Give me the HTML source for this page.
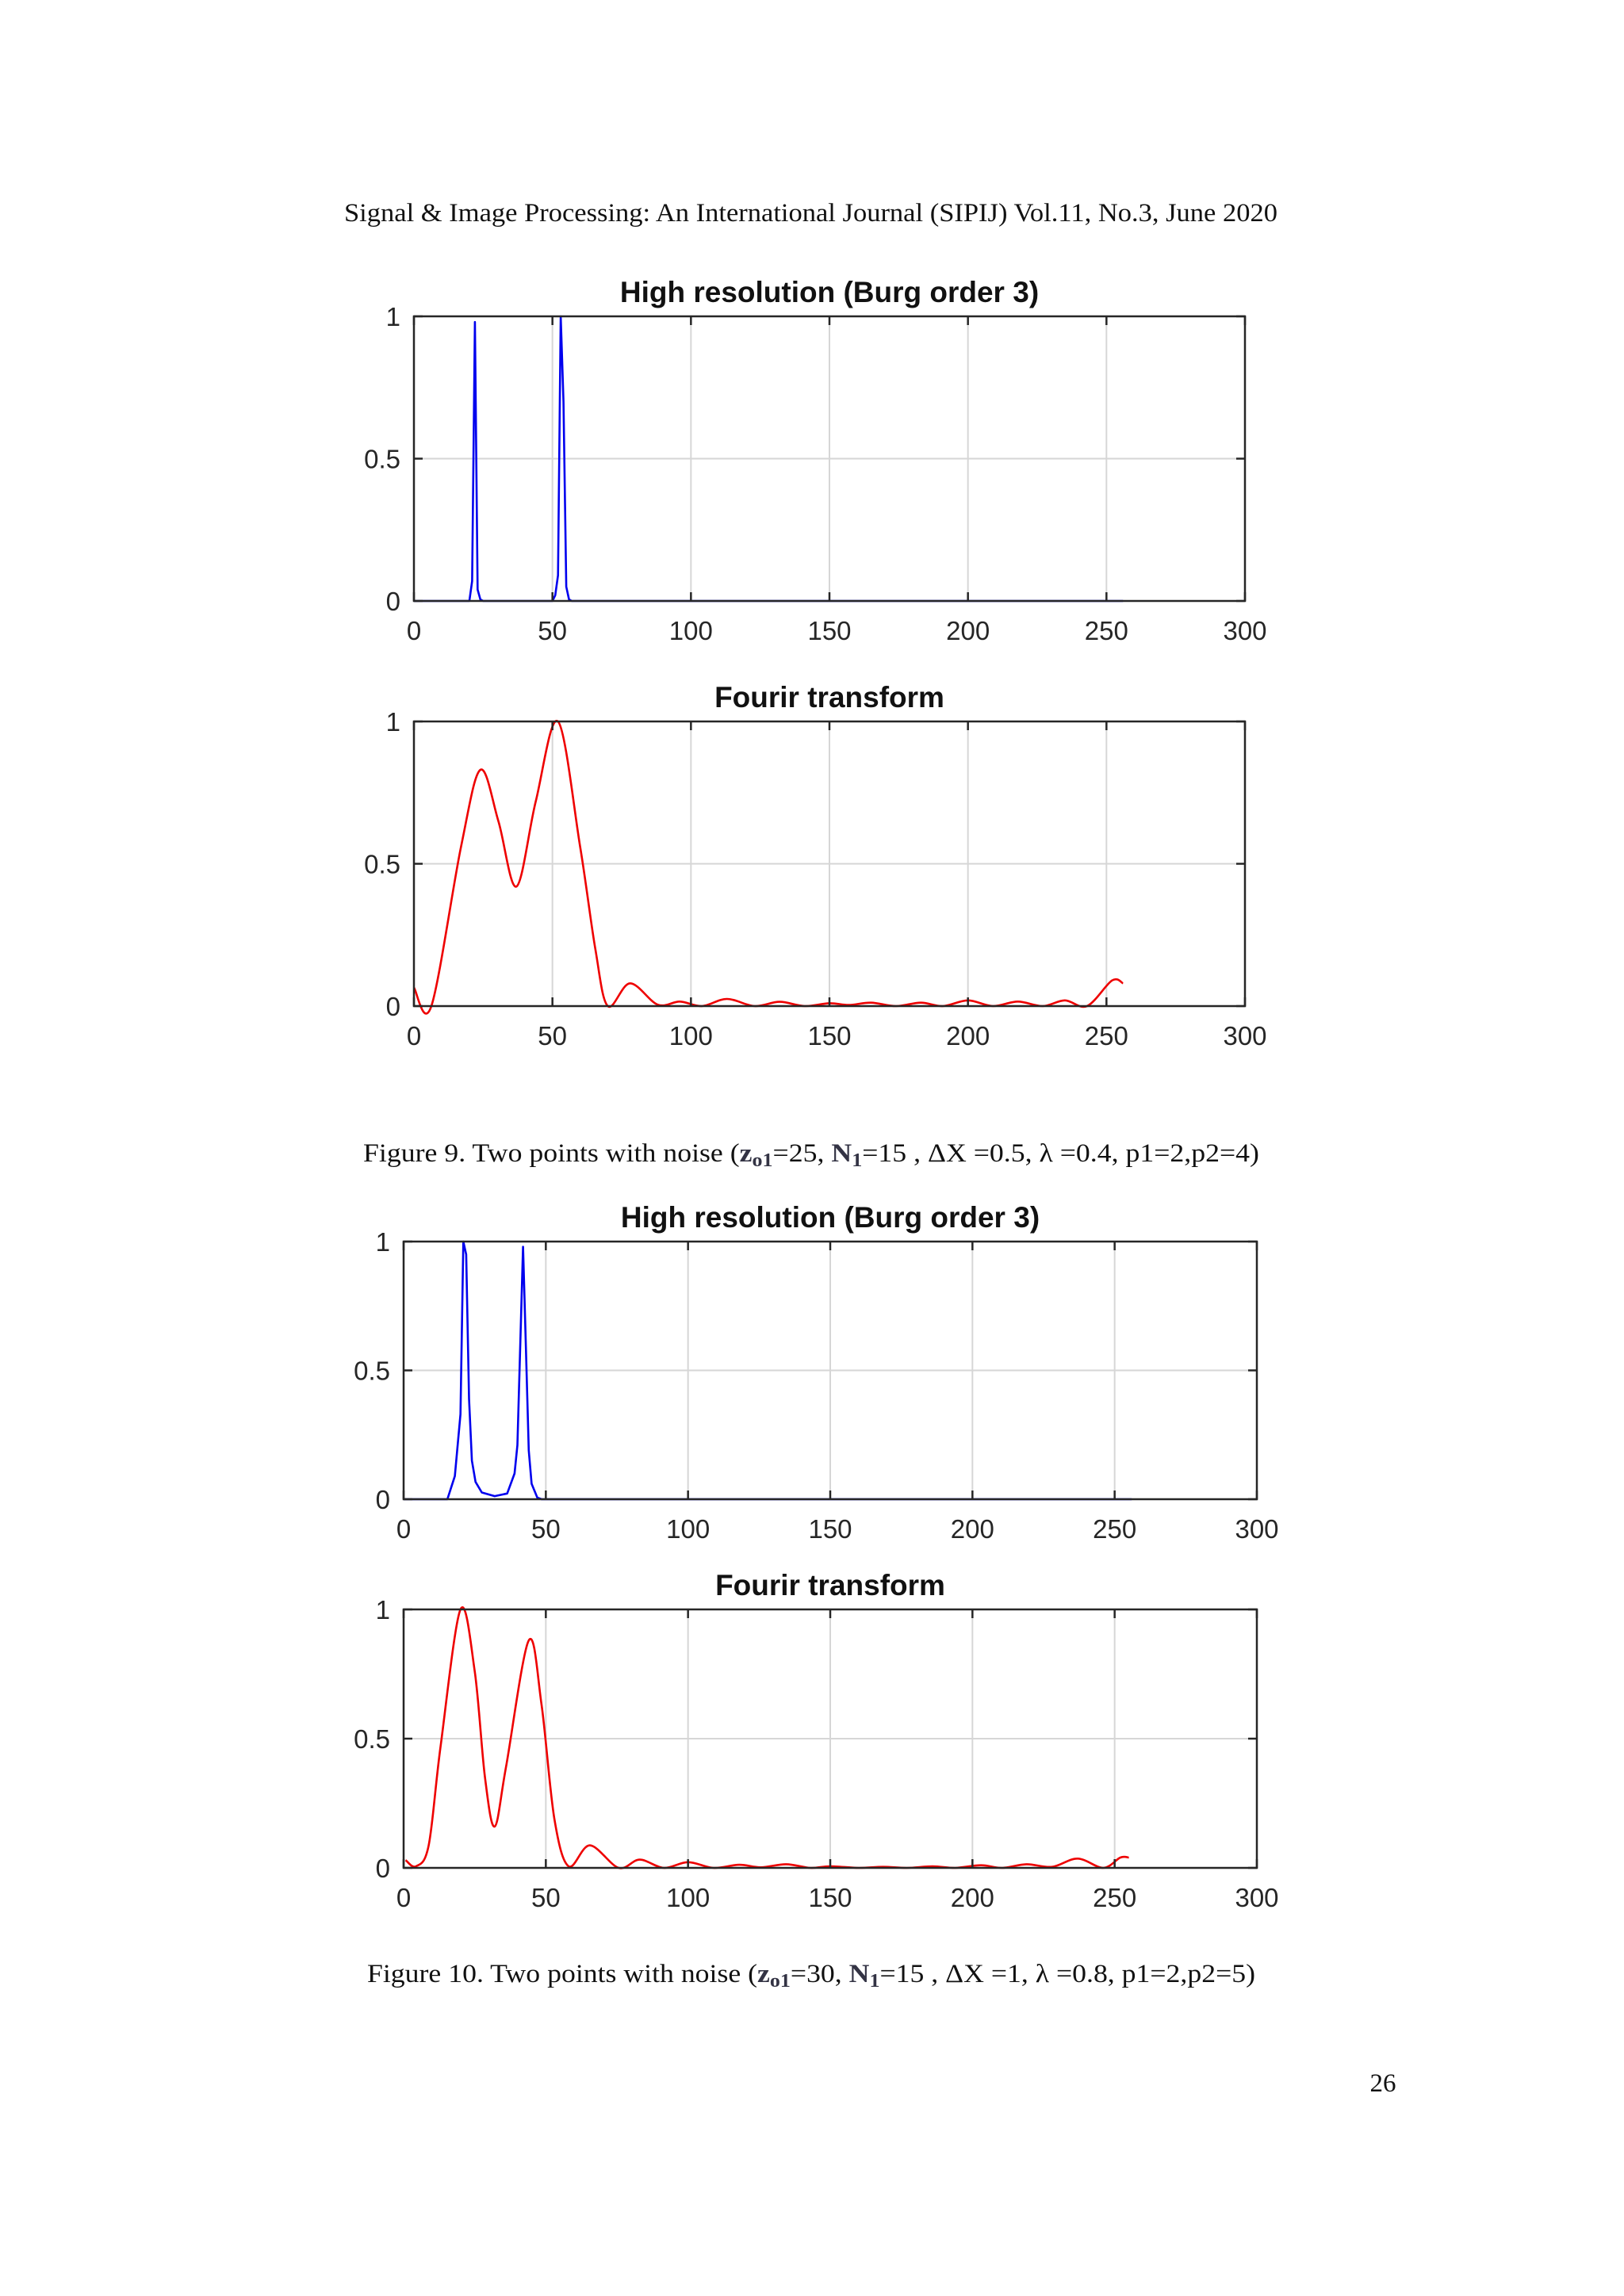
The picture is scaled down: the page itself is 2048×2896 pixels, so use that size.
<!DOCTYPE html>
<html><head><meta charset="utf-8"><style>
html,body{margin:0;padding:0;background:#fff}
svg{display:block}
text{font-family:"Liberation Sans",Arial,sans-serif}
.serif{font-family:"Liberation Serif","Times New Roman",serif}
</style></head><body>
<svg id="page" width="2048" height="2896" viewBox="0 0 2048 2896" xmlns="http://www.w3.org/2000/svg">
<text class="serif" x="434" y="279" font-size="33" textLength="1177" lengthAdjust="spacingAndGlyphs" fill="#111">Signal &amp; Image Processing: An International Journal (SIPIJ) Vol.11, No.3, June 2020</text>
<text class="serif" x="458" y="1465" font-size="33" fill="#111" textLength="1130" lengthAdjust="spacingAndGlyphs">Figure 9.   Two points with noise (<tspan fill="#334" font-weight="bold">z</tspan><tspan font-size="24" dy="6" fill="#334" font-weight="bold">o1</tspan><tspan dy="-6">=25, </tspan><tspan fill="#334" font-weight="bold">N</tspan><tspan font-size="24" dy="6" fill="#334" font-weight="bold">1</tspan><tspan dy="-6">=15 , ΔX =0.5,  λ =0.4, p1=2,p2=4)</tspan></text>
<text class="serif" x="463" y="2500" font-size="33" fill="#111" textLength="1120" lengthAdjust="spacingAndGlyphs">Figure 10.   Two points with noise (<tspan fill="#334" font-weight="bold">z</tspan><tspan font-size="24" dy="6" fill="#334" font-weight="bold">o1</tspan><tspan dy="-6">=30, </tspan><tspan fill="#334" font-weight="bold">N</tspan><tspan font-size="24" dy="6" fill="#334" font-weight="bold">1</tspan><tspan dy="-6">=15 , ΔX =1,  λ =0.8, p1=2,p2=5)</tspan></text>
<text class="serif" x="1744" y="2638" font-size="33" text-anchor="middle" fill="#111">26</text>
</svg>
<script>
// ---- data ----
const xTicks = [0, 50, 100, 150, 200, 250, 300];
const yTicks = [0, 0.5, 1];
const yTickLabels = ["0", "0.5", "1"];
const titles = ["High resolution (Burg order 3)", "Fourir transform", "High resolution (Burg order 3)", "Fourir transform"];

const burg9X = [0,20,21,22,23,24,25,50,51,52,53,54,55,56,57,256];
const burg9Y = [0,0,0.07,0.98,0.04,0.005,0,0,0.02,0.09,1.0,0.7,0.05,0.005,0,0];

const fft9X = [0,6.3,17,24,30.5,37,44,52,60,65.5,70,78,88,96,104,113,123,132,141,150,157,165,174,183,191,200,209,218,227,235,243,252,256];
const fft9Y = [0.065,0,0.56,0.83,0.65,0.42,0.72,1.0,0.56,0.2,0,0.08,0.005,0.016,0,0.025,0,0.015,0,0.01,0.004,0.012,0,0.012,0,0.02,0,0.016,0,0.02,0,0.09,0.08];

const burg10X = [0,15.4,18,20,21,22,23,24,25.3,27.5,32,36.4,39,40,42,43,44,45,47,48.5,256];
const burg10Y = [0,0,0.09,0.33,1.0,0.95,0.39,0.15,0.067,0.026,0.012,0.022,0.1,0.21,0.98,0.59,0.19,0.06,0.006,0,0];

const fft10X = [0.7,4.4,8.8,13,20,25,28.6,32,36,44,48.5,53,58,65.5,75.6,83,91.5,100,109,118,125.6,134.5,143,150,160,168.6,177,186,194,203,210.5,219,228,237,246,252,255];
const fft10Y = [0.03,0.006,0.087,0.47,1.0,0.76,0.35,0.16,0.39,0.88,0.63,0.19,0.006,0.087,0,0.032,0,0.022,0,0.012,0.002,0.014,0,0.006,0,0.004,0,0.006,0,0.01,0,0.014,0.004,0.036,0,0.04,0.04];

// ---- layout ----
const panels = [
  {l:522,r:1570,t:399,b:758,title:titles[0],xs:burg9X,ys:burg9Y,color:"#0000ee",smooth:false,name:"fig9-burg"},
  {l:522,r:1570,t:910,b:1269,title:titles[1],xs:fft9X,ys:fft9Y,color:"#ee0000",smooth:true,name:"fig9-fourier"},
  {l:509,r:1585,t:1566,b:1891,title:titles[2],xs:burg10X,ys:burg10Y,color:"#0000ee",smooth:false,name:"fig10-burg"},
  {l:509,r:1585,t:2030,b:2356,title:titles[3],xs:fft10X,ys:fft10Y,color:"#ee0000",smooth:true,name:"fig10-fourier"}
];
const NS = "http://www.w3.org/2000/svg";
const svg = document.getElementById('page');
function mk(tag, attrs, parent){
  const e = document.createElementNS(NS, tag);
  for (const k in attrs) e.setAttribute(k, attrs[k]);
  (parent||svg).appendChild(e);
  return e;
}
function smoothPath(pts){
  let d = "M" + pts[0][0].toFixed(1) + "," + pts[0][1].toFixed(1);
  for (let i=0;i<pts.length-1;i++){
    const p0 = pts[Math.max(0,i-1)], p1 = pts[i], p2 = pts[i+1], p3 = pts[Math.min(pts.length-1,i+2)];
    const c1x = p1[0] + (p2[0]-p0[0])/6, c1y = p1[1] + (p2[1]-p0[1])/6;
    const c2x = p2[0] - (p3[0]-p1[0])/6, c2y = p2[1] - (p3[1]-p1[1])/6;
    d += " C" + c1x.toFixed(1)+","+c1y.toFixed(1)+" "+c2x.toFixed(1)+","+c2y.toFixed(1)+" "+p2[0].toFixed(1)+","+p2[1].toFixed(1);
  }
  return d;
}
panels.forEach(p => {
  const g = mk('g', {});
  
  
  const sx = v => p.l + (v - 0) / 300 * (p.r - p.l);
  const sy = v => p.b - v * (p.b - p.t);
  xTicks.slice(1, -1).forEach(v => {
    const gl = mk('line', {x1:sx(v), x2:sx(v), y1:p.t, y2:p.b, stroke:"#d6d6d6", "stroke-width":2}, g);
    
    
  });
  const hg = mk('line', {x1:p.l, x2:p.r, y1:sy(0.5), y2:sy(0.5), stroke:"#d6d6d6", "stroke-width":2}, g);
  
  
  const pts = p.xs.map((x,i) => [sx(x), sy(p.ys[i])]);
  const d = p.smooth ? smoothPath(pts) : "M" + pts.map(q => q[0].toFixed(1)+","+q[1].toFixed(1)).join(" L");
  const path = mk('path', {d:d, fill:"none", stroke:p.color, "stroke-width":2.6, "stroke-linejoin":"round"}, g);
  
  
  const fr = mk('rect', {x:p.l, y:p.t, width:p.r-p.l, height:p.b-p.t, fill:"none", stroke:"#262626", "stroke-width":2.5}, g);
  
  
  xTicks.forEach(v => {
    mk('line', {x1:sx(v), x2:sx(v), y1:p.b, y2:p.b-11, stroke:"#262626", "stroke-width":2.5}, g);
    mk('line', {x1:sx(v), x2:sx(v), y1:p.t, y2:p.t+11, stroke:"#262626", "stroke-width":2.5}, g);
    const t = mk('text', {x:sx(v), y:p.b+49, "font-size":33, "text-anchor":"middle", fill:"#262626"}, g);
    t.textContent = String(v);
    
    
  });
  yTicks.forEach((v,i) => {
    mk('line', {x1:p.l, x2:p.l+11, y1:sy(v), y2:sy(v), stroke:"#262626", "stroke-width":2.5}, g);
    mk('line', {x1:p.r, x2:p.r-11, y1:sy(v), y2:sy(v), stroke:"#262626", "stroke-width":2.5}, g);
    const t = mk('text', {x:p.l-17, y:sy(v)+12, "font-size":33, "text-anchor":"end", fill:"#262626"}, g);
    t.textContent = yTickLabels[i];
    
    
  });
  const tt = mk('text', {x:(p.l+p.r)/2, y:p.t-18, "font-size":37, "font-weight":"bold", "text-anchor":"middle", fill:"#111"}, g);
  tt.textContent = p.title;
  
  
});
</script>
</body></html>
